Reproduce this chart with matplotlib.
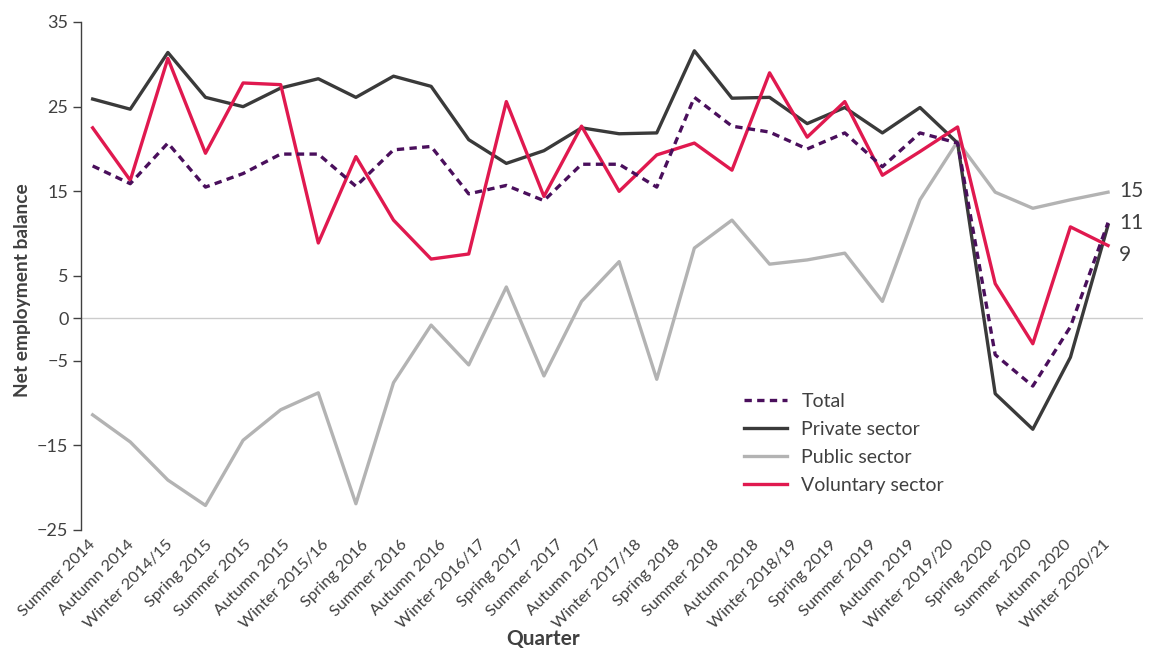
import numpy as np
import matplotlib
matplotlib.use("Agg")
import matplotlib.pyplot as plt

plt.rcParams['font.family'] = ['Lato', 'DejaVu Sans']

quarters = ["Summer 2014", "Autumn 2014", "Winter 2014/15", "Spring 2015", "Summer 2015",
            "Autumn 2015", "Winter 2015/16", "Spring 2016", "Summer 2016", "Autumn 2016",
            "Winter 2016/17", "Spring 2017", "Summer 2017", "Autumn 2017", "Winter 2017/18",
            "Spring 2018", "Summer 2018", "Autumn 2018", "Winter 2018/19", "Spring 2019",
            "Summer 2019", "Autumn 2019", "Winter 2019/20", "Spring 2020", "Summer 2020",
            "Autumn 2020", "Winter 2020/21"]

total = [18.0, 15.9, 20.7, 15.5, 17.1, 19.4, 19.4, 15.6, 19.9, 20.3, 14.7, 15.7, 13.9, 18.2,
         18.2, 15.5, 26.1, 22.7, 22.0, 20.0, 21.9, 17.9, 21.9, 20.7, -4.3, -8.0, -1.0, 11.3]
private = [25.9, 24.7, 31.4, 26.1, 25.0, 27.2, 28.3, 26.1, 28.6, 27.4, 21.1, 18.3, 19.8, 22.5,
           21.8, 21.9, 31.6, 26.0, 26.1, 23.0, 24.9, 21.9, 24.9, 20.7, -8.9, -13.1, -4.6, 11.0]
public = [-11.4, -14.6, -19.1, -22.1, -14.4, -10.8, -8.8, -21.9, -7.6, -0.8, -5.5, 3.7, -6.8, 2.0,
          6.7, -7.2, 8.3, 11.6, 6.4, 6.9, 7.7, 2.0, 14.0, 20.9, 14.9, 13.0, 14.0, 14.9]
voluntary = [22.5, 16.3, 30.7, 19.5, 27.8, 27.6, 8.9, 19.1, 11.6, 7.0, 7.6, 25.6, 14.4, 22.7,
             15.0, 19.3, 20.7, 17.5, 29.0, 21.4, 25.6, 16.9, 19.7, 22.6, 4.1, -3.0, 10.8, 8.6]

yticks = [-25, -15, -5, 0, 5, 15, 25, 35]
ytick_labels = ["\u221225", "\u221215", "\u22125", "0", "5", "15", "25", "35"]

c_total = "#4a0f5c"
c_private = "#3a3a3a"
c_public = "#b3b3b3"
c_vol = "#e0194f"
c_text = "#404040"

fig = plt.figure(figsize=(11.52, 6.48), dpi=100)
ax = fig.add_axes([81/1152, 1-530/648, (1143-81)/1152, (530-22)/648])

x = np.arange(len(total))
lw = 2.4
ax.axhline(0, color="#cccccc", lw=1.0, zorder=1)
ax.plot(x, public, color=c_public, lw=lw, label="Public sector", zorder=2)
ax.plot(x, private, color=c_private, lw=lw, label="Private sector", zorder=3)
ax.plot(x, voluntary, color=c_vol, lw=lw, label="Voluntary sector", zorder=4)
ax.plot(x, total, color=c_total, lw=lw, dashes=(2.2, 1.6), label="Total", zorder=5)

# end labels
for series, dy in [(public, 1), (total, 0), (voluntary, -9)]:
    ax.annotate(str(int(round(series[-1]))), xy=(x[-1], series[-1]), xytext=(11, dy),
                textcoords="offset pixels", ha="left", va="center",
                fontsize=15, color=c_text)

ax.set_xlim(-0.31, 27.93)
ax.set_ylim(-25, 35)
ax.set_yticks(yticks)
ax.set_yticklabels(ytick_labels, fontsize=13, color=c_text)
ax.tick_params(axis="y", length=6, width=1, color=c_text, pad=3)

ax.set_xticks(np.linspace(0, x[-1], len(quarters)))
ax.set_xticklabels(quarters, rotation=45, ha="right", va="center",
                   rotation_mode="anchor", fontsize=11.8, color=c_text)
ax.tick_params(axis="x", length=0, pad=9)

for s in ["top", "right", "bottom"]:
    ax.spines[s].set_visible(False)
ax.spines["left"].set_color(c_text)
ax.spines["left"].set_linewidth(1)

handles, labels = ax.get_legend_handles_labels()
order = [3, 1, 0, 2]
leg = fig.legend([handles[i] for i in order], [labels[i] for i in order],
                 loc="upper left", bbox_to_anchor=(744/1152, 1-393/648),
                 frameon=False, fontsize=14, handlelength=2.2, handletextpad=0.75,
                 labelspacing=0.57, borderpad=0, borderaxespad=0)
for t in leg.get_texts():
    t.set_color(c_text)

fig.text(23/1152, 1-290/648, "Net employment balance", rotation=90, ha="center",
         va="center", fontsize=13.8, fontweight="bold", color=c_text)
fig.text(543/1152, 1-639/648, "Quarter", ha="center", va="center",
         fontsize=15, fontweight="bold", color=c_text)

fig.savefig("out.png", dpi=100)
